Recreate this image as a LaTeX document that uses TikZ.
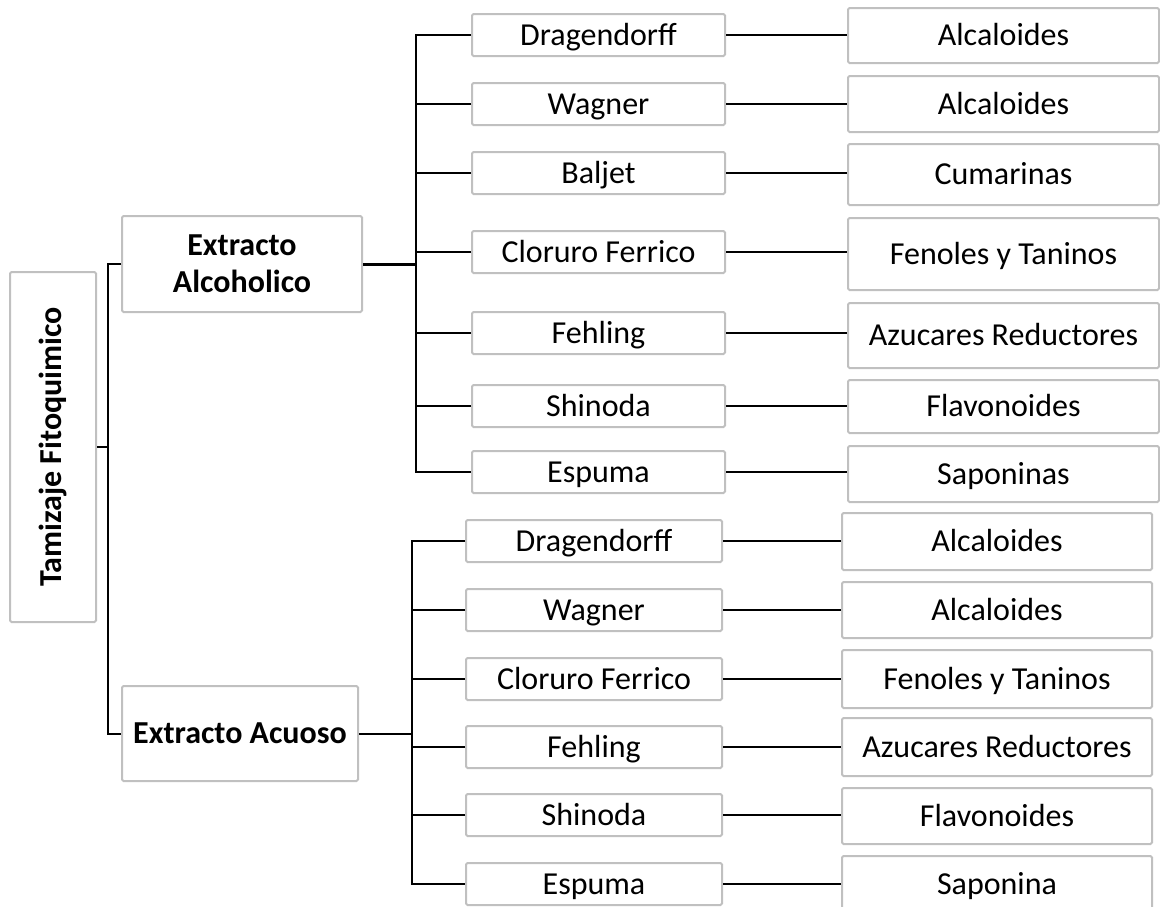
\documentclass[tikz,border=0pt]{standalone}
\usepackage{fontspec}
\setmainfont{Carlito}
\definecolor{boxgray}{RGB}{192,192,192}
\tikzset{
  box/.style={draw=boxgray, line width=2pt, fill=white, rounded corners=1.5pt, inner sep=0pt,
    font=\fontsize{32}{37}\selectfont, text height=20.5pt, text depth=0pt},
  bbox/.style={box, font=\fontsize{32}{37}\selectfont\bfseries},
  conn/.style={line width=2pt, black},
}
\begin{document}
\begin{tikzpicture}[x=1pt,y=-1pt]
\clip (0,0) rectangle (1160,906);
\fill[white] (0,0) rectangle (1160,906);
% root
\node[box, minimum width=86pt, minimum height=350pt] (root) at (53,447) {};
\node[rotate=90, font=\fontsize{32}{37}\selectfont\bfseries, inner sep=0pt, text height=20.5pt, text depth=0pt] (roottext) at (51,447) {Tamizaje Fitoquimico};
% extracts
\node[bbox, minimum width=240pt, minimum height=96pt, align=center, text height=, text depth=] (alc) at (242,264) {Extracto\\Alcoholico};
\node[bbox, minimum width=236pt, minimum height=95pt] (acu) at (240,733.5) {Extracto Acuoso};
% alcoholic tests
\node[box, minimum width=253pt, minimum height=42pt] (a1) at (598.5,35) {Dragendorff};
\node[box, minimum width=253pt, minimum height=42pt] (a2) at (598.5,104) {Wagner};
\node[box, minimum width=253pt, minimum height=42pt] (a3) at (598.5,173) {Baljet};
\node[box, minimum width=253pt, minimum height=42pt] (a4) at (598.5,252) {Cloruro Ferrico};
\node[box, minimum width=253pt, minimum height=42pt] (a5) at (598.5,333) {Fehling};
\node[box, minimum width=253pt, minimum height=42pt] (a6) at (598.5,406) {Shinoda};
\node[box, minimum width=253pt, minimum height=42pt] (a7) at (598.5,472) {Espuma};
% alcoholic results
\node[box, minimum width=311pt, minimum height=55pt] (ra1) at (1003.5,35.5) {Alcaloides};
\node[box, minimum width=311pt, minimum height=56pt] (ra2) at (1003.5,104) {Alcaloides};
\node[box, minimum width=311pt, minimum height=61pt] (ra3) at (1003.5,174.5) {Cumarinas};
\node[box, minimum width=311pt, minimum height=72pt] (ra4) at (1003.5,254) {Fenoles y Taninos};
\node[box, minimum width=311pt, minimum height=65pt] (ra5) at (1003.5,335.5) {Azucares Reductores};
\node[box, minimum width=311pt, minimum height=53pt] (ra6) at (1003.5,406.5) {Flavonoides};
\node[box, minimum width=311pt, minimum height=56pt] (ra7) at (1003.5,474) {Saponinas};
% aqueous tests
\node[box, minimum width=256pt, minimum height=42pt] (c1) at (594,541) {Dragendorff};
\node[box, minimum width=256pt, minimum height=42pt] (c2) at (594,610) {Wagner};
\node[box, minimum width=256pt, minimum height=42pt] (c3) at (594,679) {Cloruro Ferrico};
\node[box, minimum width=256pt, minimum height=42pt] (c4) at (594,747) {Fehling};
\node[box, minimum width=256pt, minimum height=42pt] (c5) at (594,815) {Shinoda};
\node[box, minimum width=256pt, minimum height=42pt] (c6) at (594,884) {Espuma};
% aqueous results
\node[box, minimum width=310pt, minimum height=57pt] (rc1) at (997,541.5) {Alcaloides};
\node[box, minimum width=310pt, minimum height=56pt] (rc2) at (997,610) {Alcaloides};
\node[box, minimum width=310pt, minimum height=58pt] (rc3) at (997,679) {Fenoles y Taninos};
\node[box, minimum width=310pt, minimum height=58pt] (rc4) at (997,747) {Azucares Reductores};
\node[box, minimum width=310pt, minimum height=56pt] (rc5) at (997,816) {Flavonoides};
\node[box, minimum width=310pt, minimum height=56pt] (rc6) at (997,884) {Saponina};
% trunk coordinates
\coordinate (rt) at (108,0);
\coordinate (ab) at (416,0);
\coordinate (cb) at (411.5,0);
% root connections
\draw[conn] (root.east) -- (rt |- root.east);
\draw[conn] (alc.west) -| (rt |- root.east) |- (acu.west);
% alcoholic
\draw[conn, line width=3pt] (alc.east) -- (ab |- alc.east);
\draw[conn] (a1.west) -| (ab |- a4.west) |- (a7.west);
\foreach \i in {2,...,6} { \draw[conn] (a\i.west) -- (ab |- a\i.west); }
\foreach \i in {1,...,7} { \draw[conn] (a\i.east) -- (ra\i.west |- a\i.east); }
% aqueous
\draw[conn] (acu.east) -- (cb |- acu.east);
\draw[conn] (c1.west) -| (cb |- c4.west) |- (c6.west);
\foreach \i in {2,...,5} { \draw[conn] (c\i.west) -- (cb |- c\i.west); }
\foreach \i in {1,...,6} { \draw[conn] (c\i.east) -- (rc\i.west |- c\i.east); }
\end{tikzpicture}
\end{document}
